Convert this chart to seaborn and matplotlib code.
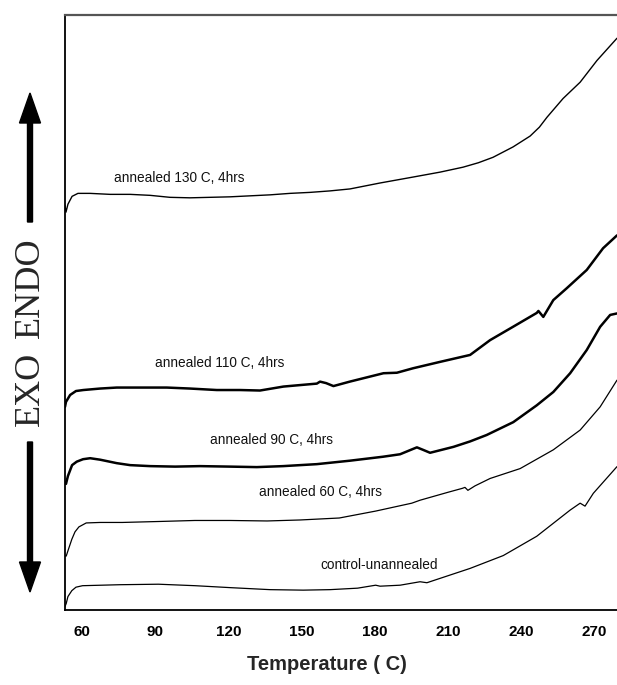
import matplotlib
matplotlib.use("Agg")
import matplotlib.pyplot as plt
from matplotlib.patches import FancyArrow
import seaborn as sns
import pandas as pd

# ---- data (temperature in C, heat flow in arbitrary units) ----
t_130 = [53.1, 53.5, 54.3, 56.0, 58.4, 63.4, 71.6, 79.8, 88.0, 96.1, 104.3, 112.5, 120.7,
         128.9, 137.1, 145.3, 153.5, 161.7, 169.9, 182.2, 195.7, 206.8, 216.2, 222.5, 228.5,
         236.7, 243.7, 247.5, 250.6, 257.2, 264.2, 271.1, 279.3]
y_130 = [8.20, 8.06, 8.22, 8.38, 8.44, 8.44, 8.42, 8.42, 8.40, 8.36, 8.35, 8.36, 8.37,
         8.39, 8.41, 8.44, 8.46, 8.49, 8.53, 8.65, 8.77, 8.87, 8.97, 9.06, 9.17,
         9.38, 9.60, 9.78, 9.98, 10.36, 10.69, 11.13, 11.58]

t_110 = [53.1, 53.5, 55.2, 57.6, 60.6, 67.5, 74.3, 83.9, 94.8, 104.3, 115.3, 124.8, 133.0,
         142.6, 149.4, 156.3, 157.6, 160.1, 163.1, 169.8, 183.6, 189.1, 195.7, 206.8,
         219.1, 227.3, 236.7, 246.4, 247.1, 249.1, 253.2, 258.7, 266.9, 273.6, 279.3]
y_110 = [4.12, 4.22, 4.36, 4.44, 4.46, 4.49, 4.51, 4.51, 4.51, 4.49, 4.46, 4.46, 4.45,
         4.53, 4.56, 4.59, 4.63, 4.60, 4.54, 4.63, 4.80, 4.81, 4.90, 5.03,
         5.17, 5.47, 5.74, 6.02, 6.06, 5.94, 6.28, 6.52, 6.89, 7.33, 7.59]

t_90 = [53.1, 53.5, 54.3, 56.0, 57.9, 60.5, 63.4, 67.5, 74.3, 79.8, 88.0, 98.2, 108.4,
        120.7, 131.7, 142.5, 156.3, 169.9, 183.4, 190.4, 197.3, 199.8, 202.7, 212.3,
        219.1, 225.9, 236.8, 246.4, 253.2, 260.1, 266.9, 272.4, 276.5, 279.3]
y_90 = [2.60, 2.56, 2.72, 2.94, 3.01, 3.06, 3.08, 3.05, 2.98, 2.94, 2.92, 2.91, 2.92,
        2.91, 2.90, 2.92, 2.96, 3.03, 3.11, 3.16, 3.30, 3.25, 3.19, 3.31,
        3.42, 3.55, 3.81, 4.15, 4.42, 4.80, 5.27, 5.74, 5.98, 6.01]

t_60 = [53.1, 53.6, 54.4, 55.9, 57.2, 58.8, 61.8, 67.5, 76.6, 92.0, 106.3, 120.7, 135.9,
        149.4, 165.5, 180.4, 195.2, 198.6, 210.0, 215.9, 217.0, 218.2, 221.1, 227.3,
        239.6, 253.2, 264.2, 272.4, 279.3]
y_60 = [1.10, 1.10, 1.22, 1.44, 1.59, 1.69, 1.77, 1.78, 1.78, 1.80, 1.82, 1.82, 1.81,
        1.83, 1.87, 2.01, 2.17, 2.23, 2.39, 2.47, 2.49, 2.43, 2.52, 2.67,
        2.87, 3.25, 3.65, 4.12, 4.66]

t_ctrl = [53.1, 53.6, 54.3, 55.9, 57.6, 60.3, 75.7, 91.4, 106.4, 121.1, 137.1, 150.7,
          161.7, 173.0, 180.4, 182.2, 190.4, 198.6, 201.4, 219.1, 232.7, 246.4, 260.1,
          264.2, 266.2, 269.6, 279.3]
y_ctrl = [0.08, 0.14, 0.28, 0.40, 0.47, 0.50, 0.52, 0.53, 0.50, 0.46, 0.42, 0.41,
          0.42, 0.45, 0.51, 0.49, 0.51, 0.58, 0.56, 0.85, 1.11, 1.50, 2.03,
          2.17, 2.11, 2.37, 2.91]

series_names = ["annealed 130 C, 4hrs", "annealed 110 C, 4hrs", "annealed 90 C, 4hrs",
                "annealed 60 C, 4hrs", "control-unannealed"]
x_ticks = [60, 90, 120, 150, 180, 210, 240, 270]
x_label = "Temperature ( C)"
side_labels = ["EXO", "ENDO"]

# ---- build table ----
frames = []
for name, t, y in zip(series_names,
                      [t_130, t_110, t_90, t_60, t_ctrl],
                      [y_130, y_110, y_90, y_60, y_ctrl]):
    frames.append(pd.DataFrame({"T": t, "Y": y, "series": name}))
df = pd.concat(frames, ignore_index=True)

# ---- style ----
sns.set_style("white")
plt.rcParams["font.family"] = ["Liberation Sans", "DejaVu Sans"]

W, H = 617, 685
fig = plt.figure(figsize=(W / 100, H / 100), dpi=100)
ax = fig.add_axes([65 / W, (H - 610.4) / H, (W - 65) / W, (610.4 - 15) / H])

widths = [1.0, 1.8, 1.8, 0.9, 0.9]
for name, lw in zip(series_names, widths):
    sub = df[df["series"] == name]
    sns.lineplot(data=sub, x="T", y="Y", ax=ax, color="black", linewidth=lw,
                 estimator=None, sort=False, legend=False)

ax.set_xlim(53.1, 279.3)
ax.set_ylim(0, 12.05)

# curve labels
label_pos = [(99.8, 8.76), (116.6, 5.01), (137.8, 3.45), (158.0, 2.40), (181.7, 0.92)]
for name, (tx, ty) in zip(series_names, label_pos):
    ax.text(tx, ty, name, ha="center", va="center", fontsize=9.8, color="#111111")

# axes styling
ax.set_xticks(x_ticks)
ax.set_xticklabels([str(v) for v in x_ticks], fontsize=11, fontweight="bold")
ax.set_yticks(range(1, 12))
ax.set_yticklabels([])
ax.tick_params(axis="x", direction="inout", length=5, width=1.0, pad=8, colors="black")
ax.tick_params(axis="y", direction="inout", length=5, width=1.0, colors="black")
ax.set_xlabel(x_label, fontsize=14.5, fontweight="bold")
ax.xaxis.set_label_coords((327 - 65) / (W - 65), -0.075)
ax.set_ylabel("")

for side in ["left", "bottom"]:
    ax.spines[side].set_color("black")
    ax.spines[side].set_linewidth(1.3)
ax.spines["top"].set_color("#555555")
ax.spines["top"].set_linewidth(1.6)
ax.spines["right"].set_visible(False)

# EXO / ENDO side annotation with arrows
fig.text(30 / W, (H - 388.5) / H, side_labels[0], rotation=90, ha="center", va="center",
         fontsize=26, family=["Liberation Serif", "DejaVu Serif"])
fig.text(30 / W, (H - 287.5) / H, side_labels[1], rotation=90, ha="center", va="center",
         fontsize=26, family=["Liberation Serif", "DejaVu Serif"])
fig.add_artist(FancyArrow(0.30, (H - 222) / 100, 0, 1.29, width=0.05, head_width=0.21,
                          head_length=0.30, length_includes_head=True, color="black",
                          transform=fig.dpi_scale_trans))
fig.add_artist(FancyArrow(0.30, (H - 442) / 100, 0, -1.50, width=0.05, head_width=0.21,
                          head_length=0.30, length_includes_head=True, color="black",
                          transform=fig.dpi_scale_trans))

fig.savefig("out.png", dpi=100)
